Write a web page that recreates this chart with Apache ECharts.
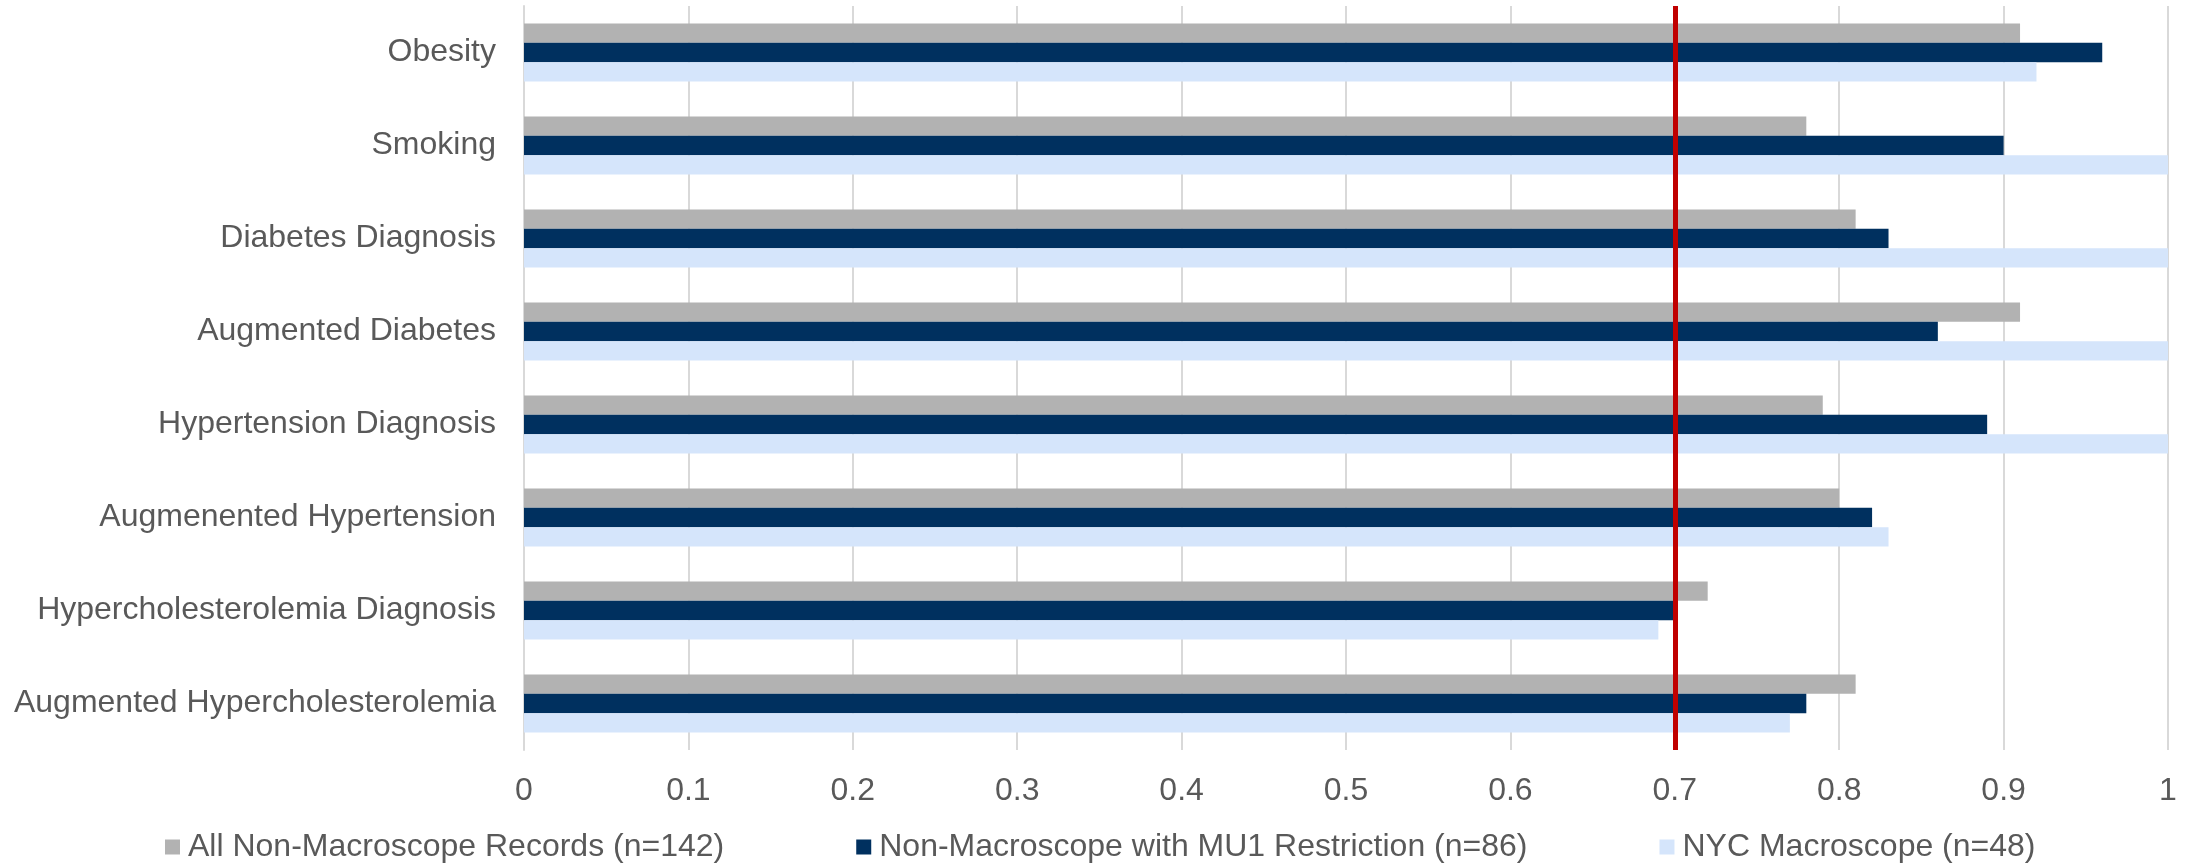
<!DOCTYPE html>
<html>
<head>
<meta charset="utf-8">
<script src="https://cdn.jsdelivr.net/npm/echarts@6/dist/echarts.min.js"></script>
<style>
  html, body { margin: 0; padding: 0; background: #ffffff; }
  #chart { width: 2190px; height: 868px; }
</style>
</head>
<body>
<div id="chart"></div>
<script>
// Measure categories, listed top to bottom
const categories = [
  'Obesity',
  'Smoking',
  'Diabetes Diagnosis',
  'Augmented Diabetes',
  'Hypertension Diagnosis',
  'Augmenented Hypertension',
  'Hypercholesterolemia Diagnosis',
  'Augmented Hypercholesterolemia'
];

const seriesNames = [
  'All Non-Macroscope Records (n=142)',
  'Non-Macroscope with MU1 Restriction (n=86)',
  'NYC Macroscope (n=48)'
];

const allNonMacroscope = [0.91, 0.78, 0.81, 0.91, 0.79, 0.80, 0.72, 0.81];
const mu1Restricted    = [0.96, 0.90, 0.83, 0.86, 0.89, 0.82, 0.70, 0.78];
const nycMacroscope    = [0.92, 1.00, 1.00, 1.00, 1.00, 0.83, 0.69, 0.77];

const xTicks = [0, 0.1, 0.2, 0.3, 0.4, 0.5, 0.6, 0.7, 0.8, 0.9, 1];
const threshold = 0.7;

const FONT = 'Liberation Sans, Arial, sans-serif';
const TEXT_COLOR = '#595959';
const colors = ['#b2b2b2', '#00305f', '#d5e5fb'];

const chart = echarts.init(document.getElementById('chart'), null, { renderer: 'canvas' });

const seriesData = [allNonMacroscope, mu1Restricted, nycMacroscope];

const series = seriesData.map((data, i) => {
  const s = {
    name: seriesNames[i],
    type: 'bar',
    data: data,
    barWidth: 19.4,
    barGap: '0%',
    itemStyle: { color: colors[i] },
    emphasis: { disabled: true },
    animation: false
  };
  if (i === seriesData.length - 1) {
    // Target threshold drawn across the plot
    s.markLine = {
      silent: true,
      symbol: ['none', 'none'],
      label: { show: false },
      lineStyle: { color: '#c00000', width: 5, type: 'solid' },
      data: [{ xAxis: threshold }],
      animation: false,
      z: 10
    };
  }
  return s;
});

chart.setOption({
  backgroundColor: '#ffffff',
  animation: false,
  color: colors,
  grid: { left: 524, right: 22, top: 6, bottom: 118, containLabel: false },
  legend: {
    data: seriesNames,
    bottom: 0,
    left: 160,
    itemWidth: 15,
    itemHeight: 15,
    itemGap: 132,
    icon: 'rect',
    textStyle: { fontFamily: FONT, fontSize: 32, color: TEXT_COLOR, padding: [0, 0, 0, 3] }
  },
  xAxis: {
    type: 'value',
    min: xTicks[0],
    max: xTicks[xTicks.length - 1],
    interval: 0.1,
    axisLine: { show: false },
    axisTick: { show: false },
    splitLine: { show: true, lineStyle: { color: '#d9d9d9', width: 2 } },
    axisLabel: {
      fontFamily: FONT,
      fontSize: 32,
      color: TEXT_COLOR,
      margin: 25,
      formatter: v => String(Math.round(v * 10) / 10)
    }
  },
  yAxis: {
    type: 'category',
    data: categories,
    inverse: true,
    axisLine: { show: true, lineStyle: { color: '#d9d9d9', width: 2 } },
    axisTick: { show: false },
    splitLine: { show: false },
    axisLabel: {
      fontFamily: FONT,
      fontSize: 32,
      color: TEXT_COLOR,
      margin: 28
    }
  },
  series: series
});
</script>
</body>
</html>
